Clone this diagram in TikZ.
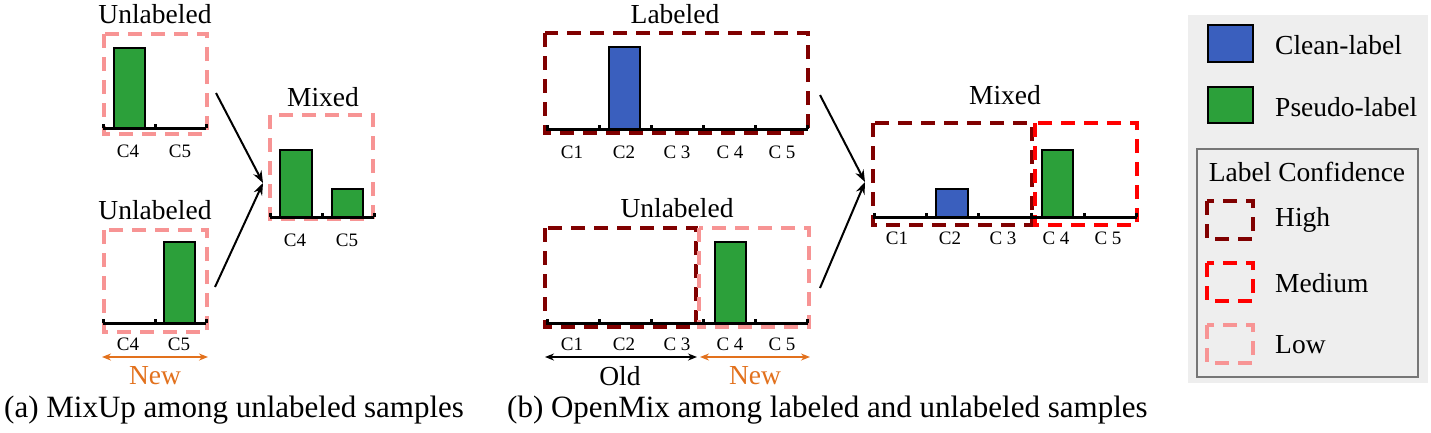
\documentclass[tikz,border=0pt]{standalone}
\usepackage{fontspec}
\setmainfont{Liberation Serif}
\usetikzlibrary{arrows.meta}
\definecolor{gr}{HTML}{2CA03A}
\definecolor{bl}{HTML}{3A5FBE}
\definecolor{dkred}{HTML}{800000}
\definecolor{mdred}{HTML}{FF0000}
\definecolor{pk}{HTML}{F79494}
\definecolor{orng}{HTML}{E2711D}
\definecolor{lgbg}{HTML}{EEEEEE}
\definecolor{lgbd}{HTML}{767676}
\begin{document}
\begin{tikzpicture}[x=1pt,y=-1pt,
 lbl/.style={font=\fontsize{27.5}{30}\selectfont, inner sep=0pt},
 captext/.style={font=\fontsize{31}{33}\selectfont, inner sep=0pt},
 tk/.style={font=\fontsize{19}{20}\selectfont, inner sep=0pt},
 conf/.style={line width=3.5pt, dash pattern=on 14pt off 9pt},
 hibox/.style={conf, draw=dkred},
 mdbox/.style={conf, draw=mdred},
 lobox/.style={conf, draw=pk},
 barbox/.style={draw=black, line width=2pt},
 axisline/.style={line width=3pt},
 conn/.style={-{Stealth[length=12pt,width=9pt]}, line width=2pt},
 span/.style={{Stealth[length=9pt,width=7pt]}-{Stealth[length=9pt,width=7pt]}, line width=1.5pt},
]
\useasboundingbox (0,0) rectangle (1431,432);

% ---------------- panel (a) ----------------
\node[lbl] (ua1) at (155,14) {Unlabeled};
\draw[lobox] (104,34) rectangle (207,134);
\draw[barbox, fill=gr] (114,128) rectangle (145,48);
\draw[axisline] (103,128) -- (206,128);
\foreach \x in {103,155,206} \draw[axisline] (\x,128) -- (\x,124);
\node[tk] (ua1c4) at (128,151) {C4};
\node[tk] (ua1c5) at (180,151) {C5};

\node[lbl] (ua2) at (155,210) {Unlabeled};
\draw[lobox] (104,230) rectangle (207,332);
\draw[barbox, fill=gr] (164,323) rectangle (195,242);
\draw[axisline] (103,323) -- (206,323);
\foreach \x in {103,155,206} \draw[axisline] (\x,323) -- (\x,319);
\node[tk] (ua2c4) at (128,344) {C4};
\node[tk] (ua2c5) at (179,344) {C5};

\coordinate (anew1) at (102,357);
\coordinate (anew2) at (208,357);
\draw[span, orng] (anew1) -- (anew2);
\node[lbl, text=orng] (anew) at (155,376) {New};

\node[lbl] (amx) at (323,97) {Mixed};
\draw[lobox] (270,115) rectangle (373,219);
\draw[barbox, fill=gr] (280,217) rectangle (312,150);
\draw[barbox, fill=gr] (332,217) rectangle (363,189);
\draw[axisline] (270,217) -- (374,217);
\foreach \x in {270,322,374} \draw[axisline] (\x,217) -- (\x,213);
\node[tk] (amc4) at (295,240) {C4};
\node[tk] (amc5) at (347,240) {C5};

\coordinate (aa1) at (216,93);
\coordinate (aa2) at (215,287);
\coordinate (aam) at (263,183);
\draw[conn] (aa1) -- (aam);
\draw[conn] (aa2) -- (aam);

\node[captext, anchor=west] (capa) at (4,410) {(a) MixUp among unlabeled samples};

% ---------------- panel (b) ----------------
\node[lbl] (bl1) at (675,14) {Labeled};
\draw[hibox] (545,33) rectangle (808,133);
\draw[barbox, fill=bl] (609,129) rectangle (640,47);
\draw[axisline] (546,129) -- (808,129);
\foreach \x in {547,599,651,703,755,807} \draw[axisline] (\x,129) -- (\x,125);
\node[tk] (bl1c1) at (572,152) {C1};
\node[tk] (bl1c2) at (624,152) {C2};
\node[tk] (bl1c3) at (677,152) {C 3};
\node[tk] (bl1c4) at (730,152) {C 4};
\node[tk] (bl1c5) at (782,152) {C 5};

\node[lbl] (bu1) at (677,208) {Unlabeled};
\draw[hibox] (545,228) rectangle (696,327);
\draw[lobox] (699,228) rectangle (809,327);
\draw[barbox, fill=gr] (715,323) rectangle (746,242);
\draw[axisline] (546,323) -- (808,323);
\foreach \x in {547,599,651,703,755,807} \draw[axisline] (\x,323) -- (\x,319);
\node[tk] (bu1c1) at (572,344) {C1};
\node[tk] (bu1c2) at (624,344) {C2};
\node[tk] (bu1c3) at (677,344) {C 3};
\node[tk] (bu1c4) at (730,344) {C 4};
\node[tk] (bu1c5) at (782,344) {C 5};

\coordinate (bold1) at (545,357);
\coordinate (bold2) at (697,357);
\draw[span, black] (bold1) -- (bold2);
\node[lbl] (bold) at (620,376) {Old};
\coordinate (bnew1) at (700,357);
\coordinate (bnew2) at (810,357);
\draw[span, orng] (bnew1) -- (bnew2);
\node[lbl, text=orng] (bnew) at (755,376) {New};

\node[lbl] (bmx) at (1005,95) {Mixed};
\draw[hibox] (873,123) rectangle (1032,225);
\draw[mdbox] (1035,123) rectangle (1137,225);
\draw[barbox, fill=bl] (936,217) rectangle (968,189);
\draw[barbox, fill=gr] (1042,217) rectangle (1073,150);
\draw[axisline] (873,217) -- (1137,217);
\foreach \x in {874,926,978,1031,1084,1136} \draw[axisline] (\x,217) -- (\x,213);
\node[tk] (bmc1) at (897,238) {C1};
\node[tk] (bmc2) at (950,238) {C2};
\node[tk] (bmc3) at (1003,238) {C 3};
\node[tk] (bmc4) at (1056,238) {C 4};
\node[tk] (bmc5) at (1108,238) {C 5};

\coordinate (ba1) at (820,95);
\coordinate (ba2) at (820,288);
\coordinate (bam) at (865,182);
\draw[conn] (ba1) -- (bam);
\draw[conn] (ba2) -- (bam);

\node[captext, anchor=west] (capb) at (507,410) {(b) OpenMix among labeled and unlabeled samples};

% ---------------- legend ----------------
\fill[lgbg] (1188,15) rectangle (1428,383);
\draw[barbox, fill=bl] (1208,25) rectangle (1253,62);
\node[lbl, anchor=west] (lclean) at (1275,45) {Clean-label};
\draw[barbox, fill=gr] (1208,87) rectangle (1253,123);
\node[lbl, anchor=west] (lpseudo) at (1275,107) {Pseudo-label};
\draw[line width=2pt, draw=lgbd] (1197,149) rectangle (1418,377);
\node[lbl] (lconf) at (1307,172) {Label Confidence};
\draw[hibox] (1207,201) rectangle (1253,239);
\node[lbl, anchor=west] (lhigh) at (1275,220) {High};
\draw[mdbox] (1207,263) rectangle (1253,301);
\node[lbl, anchor=west] (lmed) at (1275,283) {Medium};
\draw[lobox] (1207,325) rectangle (1253,363);
\node[lbl, anchor=west] (llow) at (1275,345) {Low};
\end{tikzpicture}
\end{document}
